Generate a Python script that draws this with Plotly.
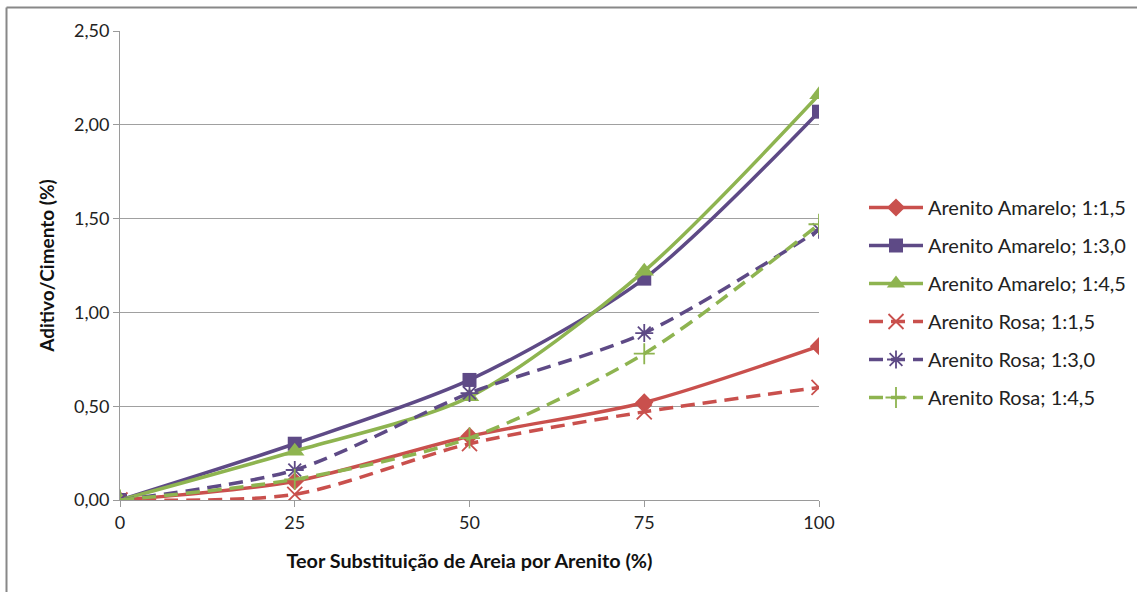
import plotly.graph_objects as go

# Teor de substituição (%)
teor = [0, 25, 50, 75, 100]

# Aditivo/Cimento (%) por série
amarelo_15 = [0.00, 0.10, 0.34, 0.52, 0.82]
amarelo_30 = [0.00, 0.30, 0.64, 1.18, 2.07]
amarelo_45 = [0.00, 0.26, 0.55, 1.22, 2.16]
rosa_15 = [0.00, 0.03, 0.30, 0.47, 0.60]
rosa_30 = [0.00, 0.16, 0.57, 0.89, 1.44]
rosa_45 = [0.00, 0.11, 0.33, 0.78, 1.47]

nomes = [
    "Arenito Amarelo; 1:1,5",
    "Arenito Amarelo; 1:3,0",
    "Arenito Amarelo; 1:4,5",
    "Arenito Rosa; 1:1,5",
    "Arenito Rosa; 1:3,0",
    "Arenito Rosa; 1:4,5",
]

RED = "#C9504D"
PURPLE = "#5E4A86"
GREEN = "#8EB450"
DASH = "14px,8px"

series = [
    (amarelo_15, RED, "solid", "diamond", 14, False),
    (amarelo_30, PURPLE, "solid", "square", 14, False),
    (amarelo_45, GREEN, "solid", "triangle-up", 17, False),
    (rosa_15, RED, DASH, "x-thin-open", 15, True),
    (rosa_30, PURPLE, DASH, "asterisk-open", 15, True),
    (rosa_45, GREEN, DASH, "cross-thin-open", 15, True),
]

FONT = "Lato"

fig = go.Figure()
for nome, (vals, cor, dash, simb, tam, fino) in zip(nomes, series):
    marker = dict(symbol=simb, size=tam, color=cor)
    if fino:
        marker["line"] = dict(color=cor, width=1.8)
    fig.add_trace(go.Scatter(
        x=teor, y=vals, name=nome, mode="lines+markers",
        line=dict(color=cor, width=3.5, dash=dash, shape="spline", smoothing=0.8),
        marker=marker, legendgroup=nome,
    ))

L, R, T, B = 120, 318, 31, 92
W, H = 1137, 592
pw, ph = W - L - R, H - T - B


def px_x(p):
    return (p - L) / pw


def px_y(p):
    return (H - B - p) / ph


# moldura externa do gráfico (bordas superior e esquerda)
fig.add_shape(type="line", xref="paper", yref="paper",
              x0=px_x(6.5), x1=px_x(6.5), y0=px_y(600), y1=px_y(7.5),
              line=dict(color="#888888", width=2))
fig.add_shape(type="line", xref="paper", yref="paper",
              x0=px_x(6.5), x1=px_x(1140), y0=px_y(7.5), y1=px_y(7.5),
              line=dict(color="#888888", width=2))

fig.update_layout(
    width=W, height=H,
    margin=dict(l=L, r=R, t=T, b=B, autoexpand=False),
    paper_bgcolor="white", plot_bgcolor="white",
    separators=",.",
    font=dict(family=FONT, size=18, color="#222222"),
    legend=dict(
        x=px_x(864), xanchor="left", y=px_y(188), yanchor="top",
        font=dict(family=FONT, size=20, color="#222222"),
        itemwidth=54, tracegroupgap=9, bgcolor="rgba(0,0,0,0)",
    ),
    xaxis=dict(
        range=[0, 100], tickvals=teor, ticktext=[str(v) for v in teor],
        showgrid=False, zeroline=False,
        showline=True, linecolor="#9A9A9A", linewidth=1,
        ticks="outside", ticklen=6, tickcolor="#9A9A9A",
        tickfont=dict(family=FONT, size=18, color="#222222"),
        title=dict(text="<b>Teor Substituição de Areia por Arenito (%)</b>",
                   font=dict(family=FONT, size=19.8, color="#111111"), standoff=22),
    ),
    yaxis=dict(
        range=[0, 2.5], tickvals=[0, 0.5, 1.0, 1.5, 2.0, 2.5], tickformat=".2f",
        showgrid=True, gridcolor="#A0A0A0", gridwidth=1, zeroline=False,
        showline=True, linecolor="#9A9A9A", linewidth=1,
        ticks="outside", ticklen=6, tickcolor="#9A9A9A",
        tickfont=dict(family=FONT, size=18, color="#222222"),
        title=dict(text="<b>Aditivo/Cimento (%)</b>",
                   font=dict(family=FONT, size=19, color="#111111"), standoff=14),
    ),
)

fig.write_html("out.html")
